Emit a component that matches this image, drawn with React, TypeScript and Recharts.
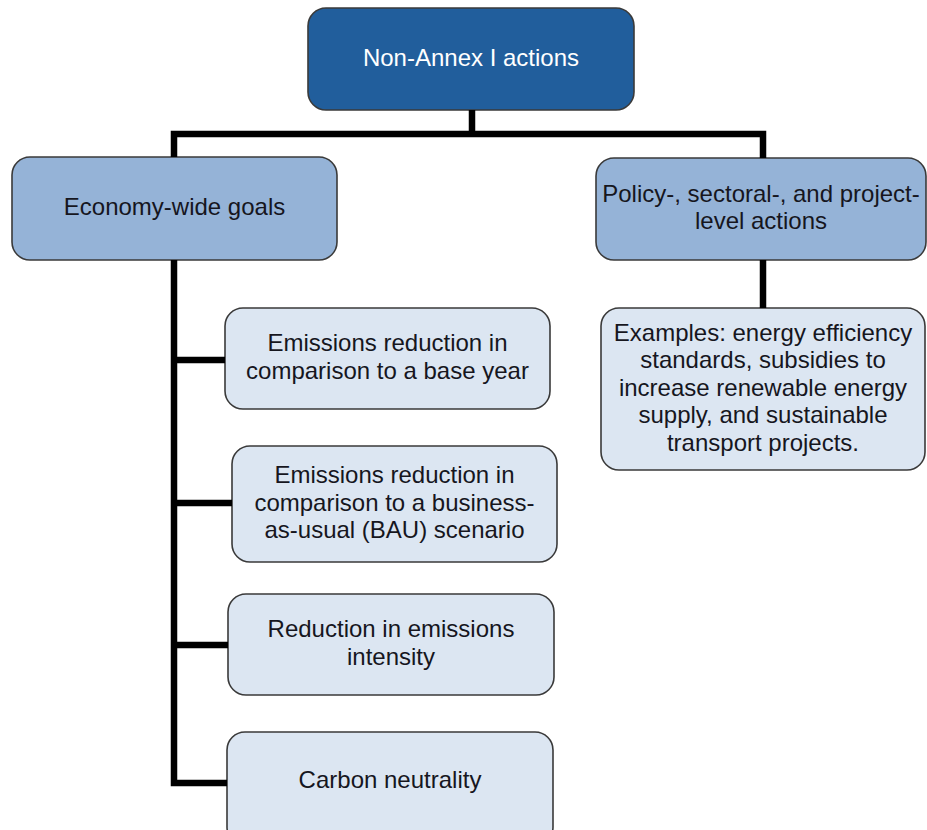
import React from "react";
import { ScatterChart, Scatter, XAxis, YAxis, ReferenceArea } from "recharts";

// ---- Diagram content (text of each node) ----
const rootLabel = ["Non-Annex I actions"];
const groupLabels = [
  ["Economy-wide goals"],
  ["Policy-, sectoral-, and project-", "level actions"],
];
const goalLabels = [
  ["Emissions reduction in", "comparison to a base year"],
  ["Emissions reduction in", "comparison to a business-", "as-usual (BAU) scenario"],
  ["Reduction in emissions", "intensity"],
  ["Carbon neutrality"],
];
const exampleLabel = [
  "Examples: energy efficiency",
  "standards, subsidies to",
  "increase renewable energy",
  "supply, and sustainable",
  "transport projects.",
];

// ---- Layout (diagram units on a 927 x 830 canvas) ----
const W = 927;
const H = 830;
type Box = { x1: number; x2: number; y1: number; y2: number };
const rootBox: Box = { x1: 308, x2: 634, y1: 8, y2: 110 };
const groupBoxes: Box[] = [
  { x1: 12, x2: 337, y1: 157, y2: 260 },
  { x1: 596, x2: 926, y1: 158, y2: 260 },
];
const goalBoxes: Box[] = [
  { x1: 225, x2: 550, y1: 308, y2: 409 },
  { x1: 232, x2: 557, y1: 446, y2: 562 },
  { x1: 228, x2: 554, y1: 594, y2: 695 },
  { x1: 227, x2: 553, y1: 732, y2: 845 },
];
const exampleBox: Box = { x1: 601, x2: 925, y1: 308, y2: 470 };

const spineX = 174;
const rightX = 763;
const busY = 134;
const connectors: { x: number; y: number }[][] = [
  [{ x: 472, y: rootBox.y2 }, { x: 472, y: busY }],
  [
    { x: spineX, y: groupBoxes[0].y1 },
    { x: spineX, y: busY },
    { x: rightX, y: busY },
    { x: rightX, y: groupBoxes[1].y1 },
  ],
  [{ x: rightX, y: groupBoxes[1].y2 }, { x: rightX, y: exampleBox.y1 }],
  [
    { x: spineX, y: groupBoxes[0].y2 },
    { x: spineX, y: 783 },
    { x: goalBoxes[3].x1, y: 783 },
  ],
  [{ x: spineX, y: 360 }, { x: goalBoxes[0].x1, y: 360 }],
  [{ x: spineX, y: 503 }, { x: goalBoxes[1].x1, y: 503 }],
  [{ x: spineX, y: 645 }, { x: goalBoxes[2].x1, y: 645 }],
];

const ROOT_FILL = "#215E9C";
const GROUP_FILL = "#95B3D7";
const GOAL_FILL = "#DCE6F2";
const BORDER = "#3A3A3A";
const FONT = "'Liberation Sans', Arial, sans-serif";

type Node = { box: Box; lines: string[]; fill: string; color: string };
const nodes: Node[] = [
  { box: rootBox, lines: rootLabel, fill: ROOT_FILL, color: "#FFFFFF" },
  ...groupBoxes.map((b, i) => ({ box: b, lines: groupLabels[i], fill: GROUP_FILL, color: "#16161E" })),
  ...goalBoxes.map((b, i) => ({ box: b, lines: goalLabels[i], fill: GOAL_FILL, color: "#16161E" })),
  { box: exampleBox, lines: exampleLabel, fill: GOAL_FILL, color: "#16161E" },
];

const textData = nodes.map((n) => ({
  x: (n.box.x1 + n.box.x2) / 2,
  y: (n.box.y1 + Math.min(n.box.y2, H)) / 2,
  lines: n.lines,
  color: n.color,
}));

const LINE_H = 27.5;

const Nothing = () => <g />;

const renderText = (p: any) => {
  const { cx, cy, payload } = p;
  const n = payload.lines.length;
  return (
    <text
      x={cx}
      y={cy}
      textAnchor="middle"
      fontFamily={FONT}
      fontSize={24}
      fill={payload.color}
    >
      {payload.lines.map((l: string, i: number) => (
        <tspan key={i} x={cx} y={cy + (i - (n - 1) / 2) * LINE_H} dy="0.28em">
          {l}
        </tspan>
      ))}
    </text>
  );
};

const makeBoxShape = (fill: string) => (p: any) => (
  <rect
    x={p.x}
    y={p.y}
    width={p.width}
    height={p.height}
    rx={18}
    ry={18}
    fill={fill}
    stroke={BORDER}
    strokeWidth={1.6}
  />
);

export default function App() {
  return (
    <div style={{ position: "absolute", left: 0, top: 0, background: "#fff" }}>
      <ScatterChart width={W} height={H} margin={{ top: 0, right: 0, bottom: 0, left: 0 }}>
        <XAxis type="number" dataKey="x" domain={[0, W]} hide allowDataOverflow />
        <YAxis type="number" dataKey="y" domain={[0, H]} reversed hide allowDataOverflow />
        {connectors.map((pts, i) => (
          <Scatter
            key={"c" + i}
            data={pts}
            shape={Nothing}
            line={{ stroke: "#000", strokeWidth: 6.5, strokeLinejoin: "miter" }}
            lineJointType="linear"
            isAnimationActive={false}
          />
        ))}
        {nodes.map((n, i) => (
          <ReferenceArea
            key={"b" + i}
            x1={n.box.x1}
            x2={n.box.x2}
            y1={n.box.y1}
            y2={n.box.y2}
            ifOverflow="visible"
            shape={makeBoxShape(n.fill)}
          />
        ))}
        <Scatter data={textData} shape={renderText} isAnimationActive={false} />
      </ScatterChart>
    </div>
  );
}
